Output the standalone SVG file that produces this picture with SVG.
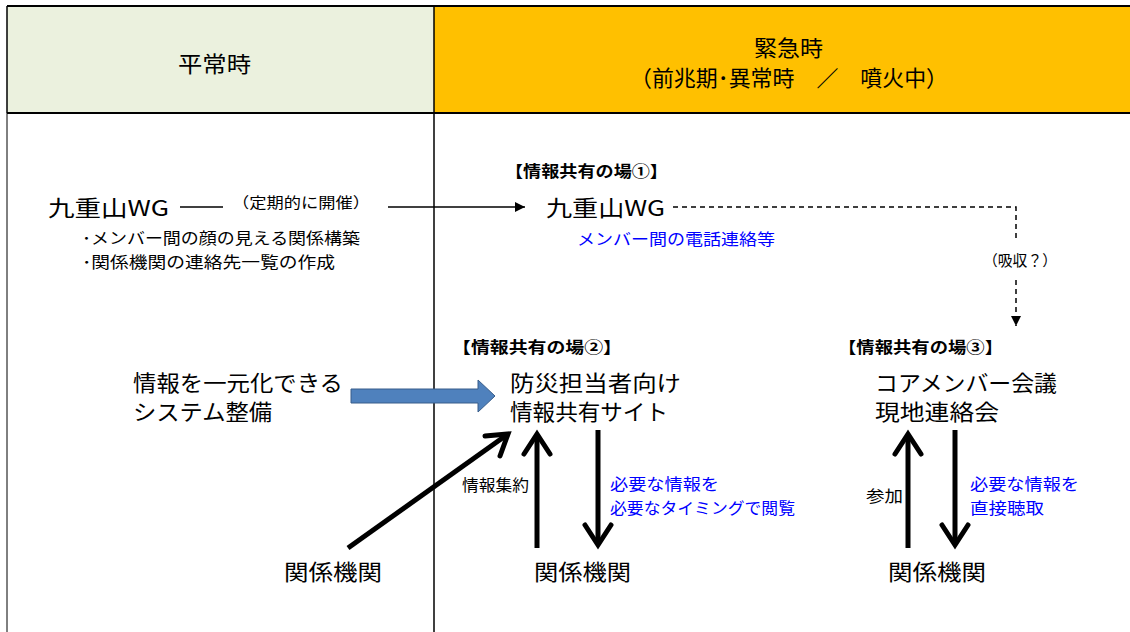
<svg xmlns="http://www.w3.org/2000/svg" width="1130" height="632" viewBox="0 0 1130 632">
<style>
text{font-family:"Noto Sans CJK JP","Liberation Sans",sans-serif;fill:#000}
.big{font-size:22px}
.mid{font-size:16px}
.sm{font-size:15px}
.hd{font-size:22px}
.b{font-weight:bold}
.blue{fill:#0000ff}
.thick{stroke:#000;stroke-width:5;fill:none}
.head{stroke:#000;stroke-width:5;fill:none;stroke-linecap:round;stroke-linejoin:miter}
</style>
<defs>
<marker id="tri" viewBox="0 0 10 10" refX="10" refY="5" markerWidth="10" markerHeight="10" markerUnits="userSpaceOnUse" orient="auto"><path d="M0,0L10,5L0,10z" fill="#000"/></marker>
</defs>
<rect width="1130" height="632" fill="#fff"/>
<g id="header">
<rect x="7" y="6" width="427" height="107" fill="#ebf1de"/>
<rect x="434" y="6" width="696" height="107" fill="#ffc000"/>
<line x1="7" y1="6" x2="1130" y2="6" stroke="#000" stroke-width="2"/>
<line x1="7" y1="113" x2="1130" y2="113" stroke="#000" stroke-width="2"/>
<line x1="7" y1="6" x2="7" y2="113" stroke="#000" stroke-width="1.5"/>
<line x1="434" y1="6" x2="434" y2="632" stroke="#000" stroke-width="1.5"/>
<line x1="7" y1="113" x2="7" y2="632" stroke="#000" stroke-width="1"/>
<text class="hd" x="178" y="72" textLength="73" lengthAdjust="spacingAndGlyphs">平常時</text>
<text class="hd" x="754" y="56" textLength="69" lengthAdjust="spacingAndGlyphs">緊急時</text>
<text class="hd" x="630" y="86" textLength="318" lengthAdjust="spacingAndGlyphs">（前兆期･異常時　／　噴火中）</text>
</g>
<g id="connectors">
<line x1="180" y1="207" x2="223" y2="207" stroke="#000" stroke-width="1.5"/>
<line x1="388" y1="207" x2="525" y2="207" stroke="#000" stroke-width="1.5" marker-end="url(#tri)"/>
<polyline points="673,207 1016,207 1016,240" fill="none" stroke="#000" stroke-width="1.5" stroke-dasharray="5,4"/>
<line x1="1016" y1="280" x2="1016" y2="326" stroke="#000" stroke-width="1.5" stroke-dasharray="5,4" marker-end="url(#tri)"/>
<path d="M351,389H478V380L495,396L478,412V403H351Z" fill="#4f81bd" stroke="#385d8a" stroke-width="1"/>
<line class="thick" x1="348" y1="548" x2="508" y2="434"/>
<polyline class="head" points="485,436 508,434 500,456"/>
<line class="thick" x1="537" y1="548" x2="537" y2="434"/>
<polyline class="head" points="524,454 537,434 550,454"/>
<line class="thick" x1="598" y1="430" x2="598" y2="545"/>
<polyline class="head" points="585,525 598,545 611,525"/>
<line class="thick" x1="908" y1="548" x2="908" y2="434"/>
<polyline class="head" points="895,454 908,434 921,454"/>
<line class="thick" x1="955" y1="430" x2="955" y2="545"/>
<polyline class="head" points="942,525 955,545 968,525"/>
</g>
<g id="wg-left">
<text class="big" x="48" y="216" textLength="121" lengthAdjust="spacingAndGlyphs">九重山WG</text>
<text class="mid" x="82" y="244" textLength="278" lengthAdjust="spacingAndGlyphs">･メンバー間の顔の見える関係構築</text>
<text class="mid" x="82" y="268" textLength="253" lengthAdjust="spacingAndGlyphs">･関係機関の連絡先一覧の作成</text>
</g>
<g id="label-teiki">
<text class="sm" x="232" y="208" textLength="138" lengthAdjust="spacingAndGlyphs">（定期的に開催）</text>
</g>
<g id="ba1">
<text class="mid b" x="505" y="177" textLength="163" lengthAdjust="spacingAndGlyphs">【情報共有の場①】</text>
<text class="big" x="546" y="216" textLength="119" lengthAdjust="spacingAndGlyphs">九重山WG</text>
<text class="mid blue" x="577" y="245" textLength="198" lengthAdjust="spacingAndGlyphs">メンバー間の電話連絡等</text>
</g>
<g id="label-kyushu">
<text class="sm" x="983" y="266" textLength="74" lengthAdjust="spacingAndGlyphs">（吸収？）</text>
</g>
<g id="system">
<text class="big" x="133" y="391" textLength="210" lengthAdjust="spacingAndGlyphs">情報を一元化できる</text>
<text class="big" x="133" y="420" textLength="139" lengthAdjust="spacingAndGlyphs">システム整備</text>
</g>
<g id="ba2">
<text class="mid b" x="452" y="353" textLength="170" lengthAdjust="spacingAndGlyphs">【情報共有の場②】</text>
<text class="big" x="510" y="391" textLength="171" lengthAdjust="spacingAndGlyphs">防災担当者向け</text>
<text class="big" x="510" y="420" textLength="158" lengthAdjust="spacingAndGlyphs">情報共有サイト</text>
</g>
<g id="ba3">
<text class="mid b" x="838" y="353" textLength="165" lengthAdjust="spacingAndGlyphs">【情報共有の場③】</text>
<text class="big" x="875" y="391" textLength="182" lengthAdjust="spacingAndGlyphs">コアメンバー会議</text>
<text class="big" x="875" y="420" textLength="124" lengthAdjust="spacingAndGlyphs">現地連絡会</text>
</g>
<g id="labels">
<text class="mid" x="462" y="491" textLength="67" lengthAdjust="spacingAndGlyphs">情報集約</text>
<text class="mid blue" x="610" y="490" textLength="109" lengthAdjust="spacingAndGlyphs">必要な情報を</text>
<text class="mid blue" x="610" y="514" textLength="185" lengthAdjust="spacingAndGlyphs">必要なタイミングで閲覧</text>
<text class="mid" x="866" y="502" textLength="37" lengthAdjust="spacingAndGlyphs">参加</text>
<text class="mid blue" x="970" y="490" textLength="109" lengthAdjust="spacingAndGlyphs">必要な情報を</text>
<text class="mid blue" x="970" y="514" textLength="74" lengthAdjust="spacingAndGlyphs">直接聴取</text>
</g>
<g id="kankei-left"><text class="big" x="284" y="580" textLength="98" lengthAdjust="spacingAndGlyphs">関係機関</text></g>
<g id="kankei-mid"><text class="big" x="534" y="580" textLength="97" lengthAdjust="spacingAndGlyphs">関係機関</text></g>
<g id="kankei-right"><text class="big" x="888" y="580" textLength="98" lengthAdjust="spacingAndGlyphs">関係機関</text></g>
</svg>
